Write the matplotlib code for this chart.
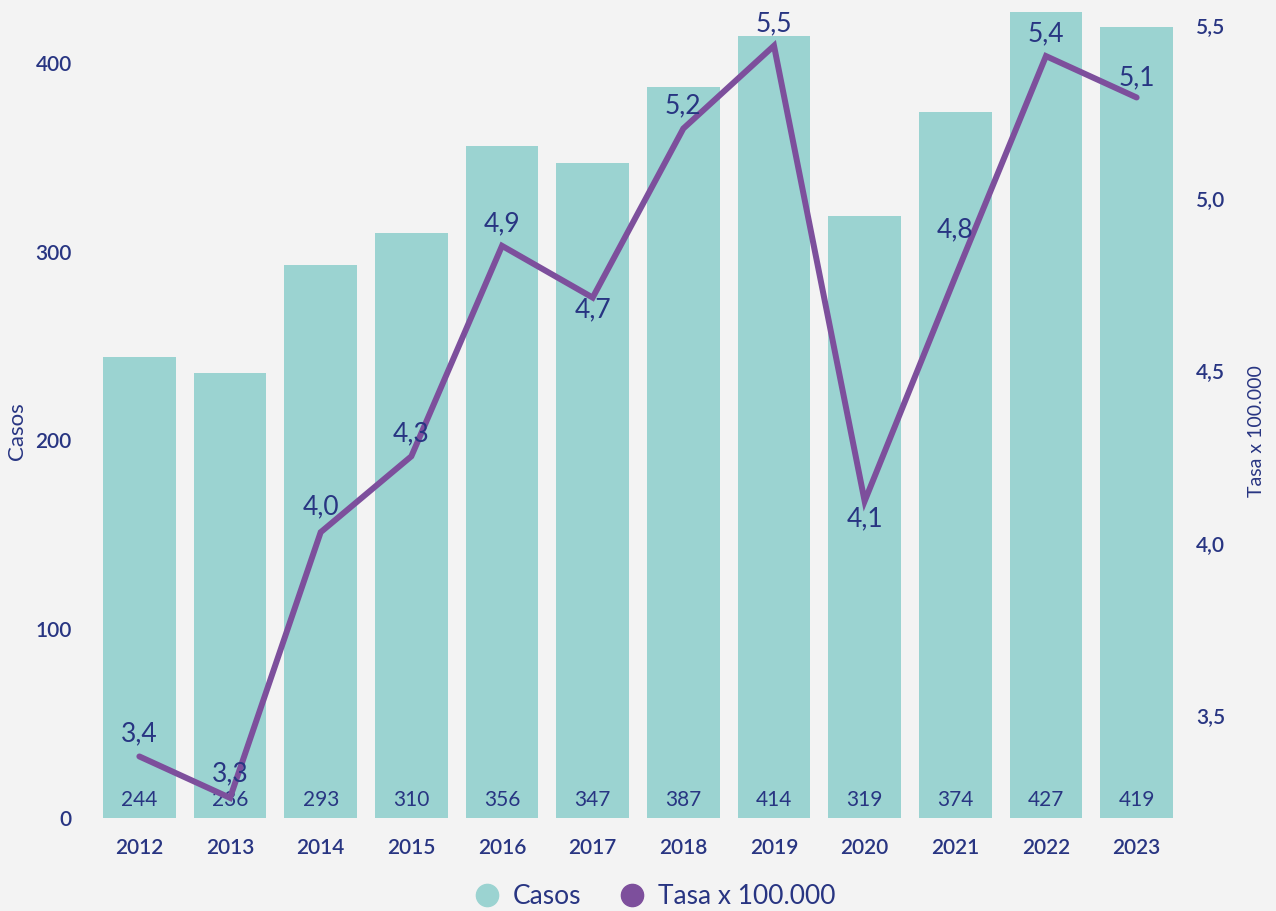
import matplotlib
matplotlib.use("Agg")
import matplotlib.pyplot as plt
from matplotlib.lines import Line2D

years = ["2012", "2013", "2014", "2015", "2016", "2017", "2018", "2019", "2020", "2021", "2022", "2023"]
casos = [244, 236, 293, 310, 356, 347, 387, 414, 319, 374, 427, 419]
tasa = [3.38, 3.26, 4.03, 4.25, 4.86, 4.71, 5.20, 5.44, 4.12, 4.77, 5.41, 5.29]
tasa_labels = ["3,4", "3,3", "4,0", "4,3", "4,9", "4,7", "5,2", "5,5", "4,1", "4,8", "5,4", "5,1"]
left_ticks = [0, 100, 200, 300, 400]
right_ticks = [3.5, 4.0, 4.5, 5.0, 5.5]
right_ticklabels = ["3,5", "4,0", "4,5", "5,0", "5,5"]

# label offsets (points) for line labels
label_dy = [16, 17, 18, 16, 16, -9, 16, 16, -13, 34, 16, 14]

BG = "#f3f3f3"
BAR = "#9bd3d1"
LINE = "#7d4f9c"
TXT = "#283582"
FONT = "Lato"

plt.rcParams['font.family'] = [FONT, 'DejaVu Sans']

fig = plt.figure(figsize=(12.76, 9.11), dpi=100, facecolor=BG)
ax = fig.add_axes([0.0737, 0.102, 0.8526, 0.887])
ax.set_facecolor(BG)
ax2 = ax.twinx()

x = list(range(len(years)))
ax.bar(x, casos, width=0.8, color=BAR, zorder=1)
ax.set_xlim(-0.5, len(years) - 0.5)
ax.set_ylim(0, 428)
ax.set_yticks(left_ticks)
ax.set_yticklabels([str(v) for v in left_ticks])
ax.set_xticks(x)
ax.set_xticklabels(years)
ax.tick_params(axis='both', length=0, colors=TXT, labelsize=15)
ax.tick_params(axis='x', pad=14)
ax.tick_params(axis='y', pad=16)
for lab in ax.get_xticklabels() + ax.get_yticklabels():
    lab.set_fontweight('semibold')
for s in ax.spines.values():
    s.set_visible(False)
ax.set_ylabel("Casos", color=TXT, fontsize=16)
ax.yaxis.set_label_coords(-0.0616, 0.479)

for i, v in enumerate(casos):
    ax.annotate(str(v), (i, 0), xytext=(0, 13), textcoords='offset points',
                ha='center', va='center', color=TXT, fontsize=15, zorder=5)

ax2.plot(x, tasa, color=LINE, lw=4.3, solid_capstyle='round', solid_joinstyle='miter', zorder=3)
ax2.set_ylim(3.2014, 5.5435)
ax2.set_yticks(right_ticks)
ax2.set_yticklabels(right_ticklabels)
ax2.tick_params(axis='y', length=0, colors=TXT, labelsize=15, pad=10)
for lab in ax2.get_yticklabels():
    lab.set_fontweight('semibold')
for s in ax2.spines.values():
    s.set_visible(False)
ax2.set_ylabel("Tasa x 100.000", color=TXT, fontsize=14)
ax2.yaxis.set_label_coords(1.061, 0.479)

for i, (v, lab) in enumerate(zip(tasa, tasa_labels)):
    ax2.annotate(lab, (i, v), xytext=(0, label_dy[i]), textcoords='offset points',
                 ha='center', va='center', color=TXT, fontsize=19)

handles = [Line2D([0], [0], marker='o', color='none', markerfacecolor=BAR, markeredgecolor=BAR, markersize=16),
           Line2D([0], [0], marker='o', color='none', markerfacecolor=LINE, markeredgecolor=LINE, markersize=16)]
fig.legend(handles, ["Casos", "Tasa x 100.000"], loc='center', bbox_to_anchor=(0.513, 0.016),
           ncol=2, frameon=False, fontsize=19, labelcolor=TXT, handletextpad=0.5, columnspacing=1.4,
           handlelength=1.0)

fig.savefig("out.png", dpi=100, facecolor=BG)
